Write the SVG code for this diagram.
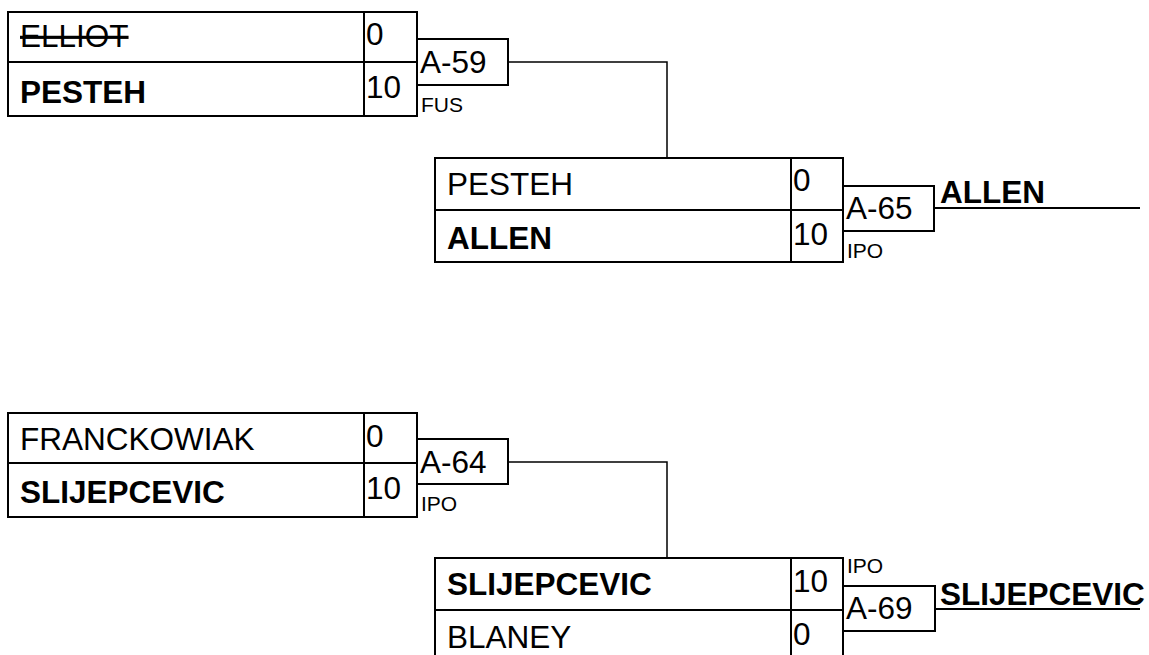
<svg xmlns="http://www.w3.org/2000/svg" width="1149" height="655" viewBox="0 0 1149 655">
<style>
.b{fill:#fff;stroke:#000;stroke-width:2}
.l{stroke:#000;stroke-width:2;fill:none}
.c{stroke:#000;stroke-width:1.5;fill:none}
text{font-family:"Liberation Sans",Arial,sans-serif;fill:#000}
.n{font-size:31.5px}
.nb{font-size:31.5px;font-weight:bold}
.s{font-size:31.5px}
.m{font-size:31.5px}
.t{font-size:21px}
.x{text-decoration:line-through}
</style>
<rect width="1149" height="655" fill="#fff"/>
<g id="connectors">
<polyline class="c" points="508,62 667,62 667,158"/>
<polyline class="c" points="508,462 667,462 667,558"/>
<line class="l" x1="934" y1="208" x2="1140" y2="208"/>
<line class="l" x1="935" y1="609" x2="1140" y2="609"/>
</g>
<g id="match-1">
<rect class="b" x="8" y="12" width="409" height="104"/>
<line class="l" x1="364" y1="12" x2="364" y2="116"/>
<line class="l" x1="8" y1="62" x2="417" y2="62"/>
<text class="n x" x="20" y="47">ELLIOT</text>
<text class="nb" x="20" y="103">PESTEH</text>
<text class="s" x="366" y="45">0</text>
<text class="s" x="366" y="98">10</text>
</g>
<g id="game-A-59">
<rect class="b" x="417" y="39" width="91" height="46"/>
<text class="m" x="420" y="73">A-59</text>
<text class="t" x="421" y="112">FUS</text>
</g>
<g id="match-2">
<rect class="b" x="435" y="158" width="408" height="104"/>
<line class="l" x1="791" y1="158" x2="791" y2="262"/>
<line class="l" x1="435" y1="210" x2="843" y2="210"/>
<text class="n" x="447" y="195">PESTEH</text>
<text class="nb" x="447" y="249">ALLEN</text>
<text class="s" x="793" y="191">0</text>
<text class="s" x="793" y="245">10</text>
</g>
<g id="game-A-65">
<rect class="b" x="843" y="186" width="91" height="45"/>
<text class="m" x="846" y="219">A-65</text>
<text class="t" x="847" y="258">IPO</text>
</g>
<g id="winner-1">
<text class="nb" x="940" y="203">ALLEN</text>
</g>
<g id="match-3">
<rect class="b" x="8" y="413" width="409" height="104"/>
<line class="l" x1="364" y1="413" x2="364" y2="517"/>
<line class="l" x1="8" y1="463" x2="417" y2="463"/>
<text class="n" x="20" y="450">FRANCKOWIAK</text>
<text class="nb" x="20" y="503">SLIJEPCEVIC</text>
<text class="s" x="366" y="447">0</text>
<text class="s" x="366" y="499">10</text>
</g>
<g id="game-A-64">
<rect class="b" x="417" y="439" width="91" height="45"/>
<text class="m" x="420" y="473">A-64</text>
<text class="t" x="421" y="511">IPO</text>
</g>
<g id="match-4">
<rect class="b" x="435" y="558" width="408" height="106"/>
<line class="l" x1="791" y1="558" x2="791" y2="664"/>
<line class="l" x1="435" y1="610" x2="843" y2="610"/>
<text class="nb" x="447" y="595">SLIJEPCEVIC</text>
<text class="n" x="447" y="648">BLANEY</text>
<text class="s" x="793" y="592">10</text>
<text class="s" x="793" y="645">0</text>
</g>
<g id="game-A-69">
<rect class="b" x="843" y="586" width="92" height="45"/>
<text class="m" x="846" y="619">A-69</text>
<text class="t" x="847" y="573">IPO</text>
</g>
<g id="winner-2">
<text class="nb" x="940" y="605">SLIJEPCEVIC</text>
</g>
</svg>
